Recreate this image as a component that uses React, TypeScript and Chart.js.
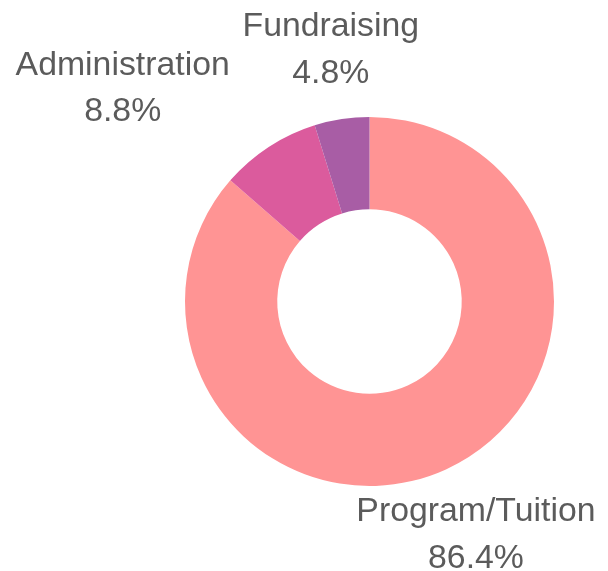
import React, { useEffect, useRef } from "react";
import { Chart, registerables } from "chart.js";

Chart.register(...registerables);

const categories = ["Program/Tuition", "Administration", "Fundraising"];
const values = [86.4, 8.8, 4.8];
const percentLabels = ["86.4%", "8.8%", "4.8%"];
const colors = ["#FF9494", "#DB5B9D", "#A85DA5"];
// label offsets relative to each slice's outer mid-point (style only)
const labelOffsets = [
  { dx: 30, dy: 52 },
  { dx: -146, dy: -72 },
  { dx: -11, dy: -83 },
];

const outsideLabels = {
  id: "outsideLabels",
  afterDatasetsDraw(chart: any) {
    const ctx = chart.ctx;
    const meta = chart.getDatasetMeta(0);
    ctx.save();
    ctx.font = "33.8px 'Liberation Sans', Arial, sans-serif";
    ctx.fillStyle = "#5b5b5b";
    ctx.textAlign = "center";
    ctx.textBaseline = "alphabetic";
    meta.data.forEach((arc: any, i: number) => {
      const { x, y, startAngle, endAngle, outerRadius } = arc.getProps(
        ["x", "y", "startAngle", "endAngle", "outerRadius"],
        true
      );
      const mid = (startAngle + endAngle) / 2;
      const ax = x + Math.cos(mid) * outerRadius + labelOffsets[i].dx;
      const ay = y + Math.sin(mid) * outerRadius + labelOffsets[i].dy;
      ctx.fillText(categories[i], ax, ay);
      ctx.fillText(percentLabels[i], ax, ay + 46.5);
    });
    ctx.restore();
  },
};

export default function App() {
  const ref = useRef<HTMLCanvasElement>(null);
  useEffect(() => {
    if (!ref.current) return;
    const chart = new Chart(ref.current, {
      type: "doughnut",
      data: {
        labels: categories,
        datasets: [
          {
            data: values,
            backgroundColor: colors,
            borderWidth: 0,
            hoverOffset: 0,
          },
        ],
      },
      options: {
        responsive: false,
        animation: false,
        devicePixelRatio: 1,
        cutout: "50%",
        layout: { padding: { left: 185, right: 54, top: 117, bottom: 85 } },
        plugins: {
          legend: { display: false },
          tooltip: { enabled: false },
        },
      },
      plugins: [outsideLabels],
    });
    return () => chart.destroy();
  }, []);
  return (
    <div style={{ position: "absolute", left: 0, top: 0, width: 608, height: 571, background: "#fff" }}>
      <canvas ref={ref} width={608} height={571} />
    </div>
  );
}
